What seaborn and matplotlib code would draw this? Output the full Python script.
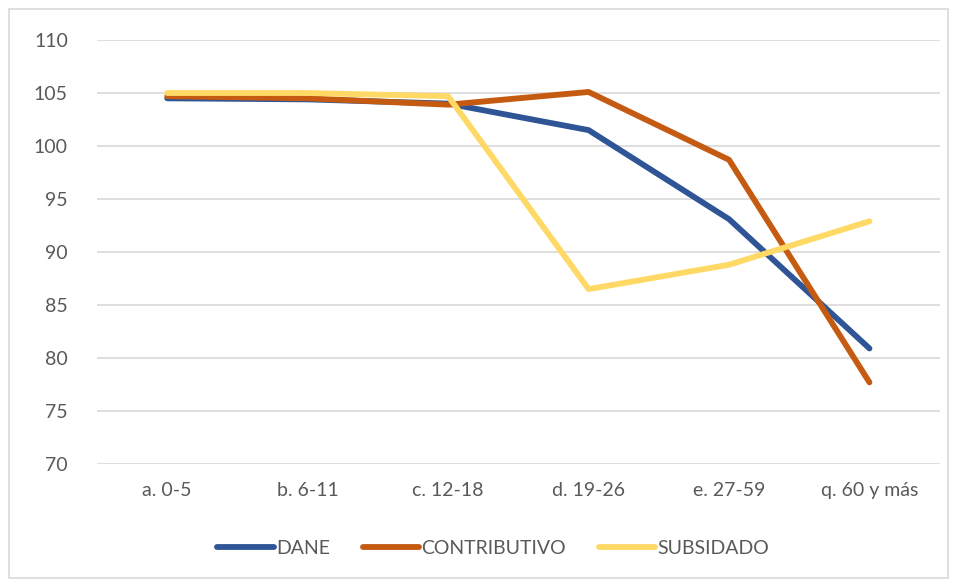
import pandas as pd
import numpy as np
import matplotlib.pyplot as plt
import seaborn as sns
from matplotlib.patches import Rectangle

# Age groups and series
categories = ["a. 0-5", "b. 6-11", "c. 12-18", "d. 19-26", "e. 27-59", "q. 60 y más"]
dane = [104.5, 104.4, 104.0, 101.5, 93.1, 80.9]
contributivo = [104.7, 104.5, 103.9, 105.1, 98.7, 77.7]
subsidado = [105.0, 105.0, 104.7, 86.5, 88.8, 92.9]
series_names = ["DANE", "CONTRIBUTIVO", "SUBSIDADO"]
y_ticks = [70, 75, 80, 85, 90, 95, 100, 105, 110]

colors = ["#2F5597", "#C55A11", "#FFD966"]
text_color = "#595959"

df = pd.DataFrame({
    "grupo": categories * 3,
    "valor": dane + contributivo + subsidado,
    "serie": np.repeat(series_names, len(categories)),
})

sns.set_style("white")
plt.rcParams['font.family'] = ['Lato', 'DejaVu Sans']

fig = plt.figure(figsize=(9.54, 5.80), dpi=100)
ax = fig.add_axes([0.1017, 0.2, 0.8833, 0.731])

# light border around the whole chart area
fig.patches.append(Rectangle((0.009, 0.004), 0.985, 0.98, transform=fig.transFigure,
                             fill=False, edgecolor="#D9D9D9", linewidth=1.2))

sns.lineplot(data=df, x="grupo", y="valor", hue="serie", palette=colors,
             hue_order=series_names, sort=False, linewidth=4.2, ax=ax)
for line in ax.lines:
    line.set_solid_capstyle("round")
    line.set_solid_joinstyle("round")

ax.set_xlim(-0.5, len(categories) - 0.5)
ax.set_ylim(70, 110)
ax.set_yticks(y_ticks)
ax.yaxis.grid(True, color="#D9D9D9", linewidth=1.2)
ax.set_axisbelow(True)
for side in ["top", "right", "left", "bottom"]:
    ax.spines[side].set_visible(False)
ax.set_xlabel("")
ax.set_ylabel("")
ax.tick_params(axis="both", length=0, labelsize=14, labelcolor=text_color)
ax.tick_params(axis="x", pad=13)
ax.tick_params(axis="y", pad=21)

ax.legend_.remove()
handles = ax.lines[:3]
fig.legend(handles, series_names, loc="center", bbox_to_anchor=(0.517, 0.055), ncol=3,
           frameon=False, fontsize=14, labelcolor=text_color, handlelength=2.9,
           handletextpad=0.1, columnspacing=1.7)

fig.savefig("out.png", dpi=100)
